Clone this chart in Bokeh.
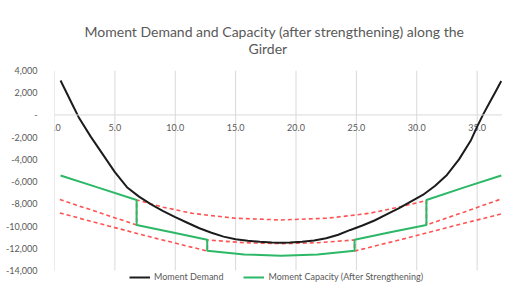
from bokeh.plotting import figure
from bokeh.models import Range1d, FixedTicker, Span, Legend, LegendItem, Title
from bokeh.core.properties import value
from bokeh.embed import file_html
from bokeh.resources import INLINE

# ---- data ----
title_line1 = "Moment Demand and Capacity (after strengthening) along the"
title_line2 = "Girder"

x_ticks = [0, 5, 10, 15, 20, 25, 30, 35]
x_tick_labels = ["0.0", "5.0", "10.0", "15.0", "20.0", "25.0", "30.0", "35.0"]
y_ticks = [4000, 2000, 0, -2000, -4000, -6000, -8000, -10000, -12000, -14000]
y_tick_labels = ["4,000", "2,000", "-", "-2,000", "-4,000", "-6,000", "-8,000",
                 "-10,000", "-12,000", "-14,000"]

demand_x = [0.5, 1.0, 1.5, 2.0, 3.0, 4.0, 5.0, 6.0, 7.0, 8.0, 9.0, 10.0, 11.0, 12.0,
            13.0, 14.0, 15.0, 16.0, 17.0, 18.0, 18.75, 19.5, 20.5, 21.5, 22.5, 23.5,
            24.5, 25.5, 26.5, 27.5, 28.5, 29.5, 30.5, 31.5, 32.5, 33.5, 34.5, 35.0,
            35.5, 36.0, 36.5, 37.0]
demand_y = [3100, 2000, 900, -200, -1950, -3550, -5150, -6500, -7350, -8050, -8650,
            -9200, -9700, -10200, -10600, -10950, -11180, -11330, -11420, -11480,
            -11500, -11480, -11420, -11300, -11100, -10780, -10350, -9950, -9500,
            -8950, -8400, -7800, -7200, -6400, -5400, -4000, -2250, -1050, 50, 1050,
            2050, 3050]

capacity_x = [0.5, 3.5, 6.8, 6.8, 9.7, 12.65, 12.65, 15.7, 18.75, 21.8, 24.85, 24.85,
              27.8, 30.8, 30.8, 34.0, 37.0]
capacity_y = [-5450, -6500, -7650, -9900, -10550, -11230, -12220, -12550, -12670,
              -12550, -12220, -11230, -10550, -9900, -7650, -6500, -5450]

limit1_x = [0.44, 3.6, 6.8, 6.8, 9.0, 11.4, 13.0, 15.0, 18.75, 22.5, 24.5, 26.1, 28.5,
            30.8, 30.8, 33.9, 37.0]
limit1_y = [-7620, -8750, -9900, -7650, -8300, -8850, -9060, -9300, -9450, -9300,
            -9060, -8850, -8300, -7700, -9900, -8750, -7560]

limit2_x = [0.44, 4.5, 8.5, 12.65, 12.65, 15.7, 18.75, 21.8, 24.85, 24.85, 29.0, 33.0, 37.0]
limit2_y = [-8820, -10000, -11130, -12250, -11250, -11500, -11580, -11500, -11250,
            -12250, -11130, -10000, -8910]

# ---- style ----
GRAY_TXT = "#595959"
GRID = "#d9d9d9"
FONT = "Lato"

y_top = max(y_ticks)
y_bot = min(y_ticks)

p = figure(width=502, height=282, output_backend="svg", toolbar_location=None,
           x_axis_location=None,
           x_range=Range1d(0, 37.1), y_range=Range1d(y_bot - 1080, y_top),
           min_border_left=54, min_border_right=0, min_border_top=70,
           min_border_bottom=0)
p.title.visible = False
p.outline_line_color = None
p.background_fill_color = "white"
p.border_fill_color = "white"

# titles (added nearest-first)
t2 = Title(text=title_line2, align="left", text_font=FONT, text_font_size="14px",
           text_color=GRAY_TXT, text_font_style="normal", standoff=27, offset=194)
t1 = Title(text=title_line1, align="left", text_font=FONT, text_font_size="14px",
           text_color=GRAY_TXT, text_font_style="normal", standoff=-31, offset=30)
p.add_layout(t2, "above")
p.add_layout(t1, "above")

# grids
p.xgrid.visible = False
p.ygrid.visible = False
p.segment(x0=x_ticks, y0=[y_bot] * len(x_ticks), x1=x_ticks, y1=[y_top] * len(x_ticks),
          line_color=GRID, line_width=1)

p.yaxis.ticker = FixedTicker(ticks=y_ticks)
p.yaxis.major_label_overrides = {t: l for t, l in zip(y_ticks, y_tick_labels)}
p.yaxis.axis_line_color = None
p.yaxis.major_tick_line_color = None
p.yaxis.minor_tick_line_color = None
p.yaxis.major_label_standoff = 11
p.yaxis.major_label_text_font = FONT
p.yaxis.major_label_text_font_size = "9px"
p.yaxis.major_label_text_color = GRAY_TXT

# zero line acting as horizontal axis
p.add_layout(Span(location=0, dimension="width", line_color=GRID, line_width=1))

p.text(x=x_ticks, y=[0] * len(x_ticks), text=x_tick_labels, text_align="center",
       text_baseline="middle", y_offset=12.5, text_font=value(FONT),
       text_font_size="9px", text_color=GRAY_TXT)

# series
RED = "#ff5252"
p.line(limit1_x, limit1_y, line_color=RED, line_width=1.6, line_dash="4 3")
p.line(limit2_x, limit2_y, line_color=RED, line_width=1.6, line_dash="4 3")
r_cap = p.line(capacity_x, capacity_y, line_color="#2cb866", line_width=2)
r_dem = p.line(demand_x, demand_y, line_color="#1c1c1c", line_width=2)

legend = Legend(items=[LegendItem(label="Moment Demand", renderers=[r_dem]),
                       LegendItem(label="Moment Capacity (After Strengthening)",
                                  renderers=[r_cap])],
                orientation="horizontal", location=(75, 0),
                label_text_font=FONT, label_text_font_size="9px",
                label_text_color=GRAY_TXT, glyph_width=21, glyph_height=10,
                label_height=10, label_standoff=4, spacing=20, padding=2, margin=0,
                border_line_color=None, background_fill_alpha=0)
p.add_layout(legend, "center")

open("out.html", "w").write(file_html(p, INLINE))
